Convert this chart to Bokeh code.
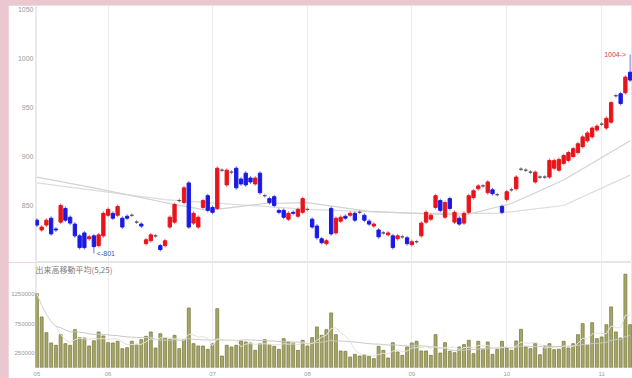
import pandas as pd
from bokeh.plotting import figure
from bokeh.layouts import column
from bokeh.models import ColumnDataSource, Range1d, FixedTicker, Label, Grid
from bokeh.embed import file_html
from bokeh.resources import INLINE

month_ticks = [0, 15, 37, 57, 79, 99, 119]
month_labels = ["05", "06", "07", "08", "09", "10", "11"]
price_ticks = [850, 900, 950, 1000, 1050]
volume_ticks = [250000, 750000, 1250000]

opens = [835, 825, 830, 837, 826, 833, 847, 838, 831, 819,
         822, 816, 819, 809, 819, 840, 842, 840, 837, 839,
         840, 833, 831, 811, 814, 819, 809, 809, 828, 833,
         855, 853, 873, 832, 828, 848, 860, 848, 847, 886,
         871, 884, 888, 877, 883, 878, 872, 883, 860, 857,
         859, 845, 845, 836, 843, 839, 843, 846, 836, 829,
         816, 811, 847, 822, 834, 839, 840, 842, 843, 840,
         834, 829, 825, 822, 820, 819, 816, 818, 817, 810,
         813, 819, 833, 836, 848, 855, 838, 857, 833, 837,
         832, 843, 858, 867, 870, 863, 866, 861, 849, 856,
         866, 867, 887, 886, 884, 874, 879, 879, 879, 888,
         886, 893, 896, 900, 904, 910, 916, 920, 927, 933,
         929, 935, 962, 964, 965, 986]
closes = [830, 828, 835, 821, 825, 850, 835, 832, 819, 807,
          807, 818, 808, 820, 842, 846, 837, 849, 828, 837,
          840, 833, 829, 815, 820, 819, 805, 814, 838, 851,
          855, 868, 828, 842, 838, 855, 845, 843, 888, 886,
          886, 884, 868, 872, 871, 874, 878, 863, 860, 853,
          850, 843, 838, 842, 842, 846, 857, 846, 828, 817,
          812, 814, 821, 837, 838, 837, 842, 835, 843, 835,
          831, 831, 818, 822, 822, 807, 819, 818, 811, 813,
          813, 832, 843, 840, 860, 845, 853, 847, 843, 831,
          842, 860, 865, 870, 870, 874, 862, 861, 843, 864,
          866, 879, 887, 886, 884, 884, 879, 879, 896, 896,
          897, 901, 904, 908, 913, 920, 924, 929, 931, 933,
          939, 955, 962, 954, 981, 978]
highs = [837, 830, 837, 839, 828, 852, 849, 840, 833, 821,
         824, 820, 821, 822, 844, 848, 844, 851, 839, 841,
         842, 835, 833, 817, 822, 821, 811, 816, 840, 853,
         857, 870, 875, 844, 840, 857, 862, 850, 890, 888,
         888, 886, 890, 879, 885, 880, 880, 885, 862, 859,
         861, 847, 847, 844, 845, 848, 859, 848, 838, 831,
         818, 816, 849, 839, 840, 841, 844, 844, 845, 842,
         836, 833, 827, 824, 824, 821, 821, 820, 819, 815,
         815, 834, 845, 842, 862, 857, 855, 859, 845, 839,
         844, 862, 867, 872, 872, 876, 868, 863, 851, 866,
         868, 881, 889, 888, 886, 886, 881, 881, 898, 898,
         899, 903, 906, 910, 915, 922, 926, 931, 933, 935,
         941, 957, 964, 966, 983, 1004]
lows = [828, 823, 828, 819, 823, 831, 833, 830, 817, 805,
        805, 814, 801, 807, 817, 838, 835, 838, 826, 835,
        838, 831, 827, 809, 812, 817, 803, 807, 826, 831,
        853, 851, 826, 830, 826, 846, 843, 841, 845, 884,
        869, 882, 866, 870, 869, 872, 870, 861, 858, 851,
        848, 841, 836, 834, 840, 837, 841, 844, 826, 815,
        810, 809, 819, 820, 832, 835, 838, 833, 841, 833,
        829, 827, 816, 820, 818, 805, 814, 816, 809, 808,
        811, 817, 831, 834, 846, 843, 836, 845, 831, 829,
        830, 841, 856, 865, 868, 861, 860, 859, 841, 854,
        864, 865, 885, 884, 882, 872, 877, 877, 877, 886,
        884, 891, 894, 898, 902, 908, 914, 918, 925, 931,
        927, 933, 960, 952, 963, 976]
volumes_k = [1259, 862, 594, 418, 379, 560, 406, 379, 645, 509,
             503, 367, 457, 606, 538, 423, 418, 447, 321, 338,
             447, 396, 475, 532, 606, 333, 577, 509, 481, 549,
             321, 481, 1015, 406, 367, 367,
             310, 406, 1003, 196, 379, 350, 379, 452, 435, 418,
             293, 406, 475, 390, 361, 310, 492, 435, 418, 293,
             464, 367, 509, 691, 549, 645, 930, 560, 282, 276,
             179, 225, 196, 218, 191, 150, 361, 293, 162, 423,
             265, 208, 350, 418, 447,
             282, 282, 208, 560, 247, 423, 276, 253, 350, 390,
             464, 236, 447, 304, 435, 225, 310, 447, 333, 293,
             452, 651, 350, 321, 406, 218, 367, 406, 304, 310,
             447, 333, 406, 560, 747, 379, 764, 492, 520, 730,
             1032, 606, 503, 1590, 730]

# moving averages of price (index, value)
ma25_idx = [0, 12, 27, 36, 48, 57, 70, 80, 90, 100, 111, 125]
ma25_val = [879, 868, 853, 845, 852, 853, 844, 842, 840, 852, 876, 916]
ma75_idx = [0, 27, 57, 80, 97, 111, 125]
ma75_val = [873, 856, 846, 842, 842, 850, 881]

UP = "#e8141c"
DOWN = "#1a1ae6"
FLAT = "#555566"

n = len(opens)
idx = list(range(n))
colors = [UP if c > o else (DOWN if c < o else FLAT) for o, c in zip(opens, closes)]
src = ColumnDataSource(dict(
    x=idx, top=[max(o, c) for o, c in zip(opens, closes)],
    bottom=[min(o, c) for o, c in zip(opens, closes)],
    high=highs, low=lows, color=colors,
    vol=[v * 1000 for v in volumes_k],
))
vs = pd.Series([v * 1000 for v in volumes_k])
vsrc = ColumnDataSource(dict(x=idx, ma5=vs.rolling(5, min_periods=1).mean(),
                             ma25=vs.rolling(25, min_periods=1).mean()))

xr = Range1d(-0.3, 125.5)

p1 = figure(width=624, height=257, x_range=xr, y_range=Range1d(791.8, 1054.1),
            output_backend="svg", toolbar_location=None, x_axis_location=None,
            min_border_left=24, min_border_right=0, min_border_top=0, min_border_bottom=0)
p1.grid.visible = False
p1.add_layout(Grid(dimension=0, ticker=FixedTicker(ticks=month_ticks), grid_line_color="#ececec"))
p1.outline_line_color = "#e6e6e6"
p1.yaxis.ticker = FixedTicker(ticks=price_ticks)
p1.yaxis.axis_line_color = None
p1.yaxis.major_tick_line_color = None
p1.yaxis.minor_tick_line_color = None
p1.yaxis.major_tick_out = 0
p1.yaxis.major_label_standoff = 2
p1.yaxis.major_label_text_font_size = "7px"
p1.yaxis.major_label_text_color = "#9a9a9a"
p1.yaxis.major_label_text_font = "Liberation Sans"

p1.line(ma75_idx, ma75_val, line_color="#dcdcdc", line_width=1.2)
p1.line(ma25_idx, ma25_val, line_color="#d2d2d2", line_width=1.2)
p1.segment(x0="x", y0="low", x1="x", y1="high", line_color="color", line_width=1,
           line_alpha=0.6, source=src)
p1.vbar(x="x", width=0.7, top="top", bottom="bottom", fill_color="color",
        line_color="color", line_width=1, source=src)

p1.add_layout(Label(x=12, y=801, text="<-801", x_offset=3, text_baseline="middle",
                    text_font_size="7px", text_color="#3a58a8", text_font="Liberation Sans"))
p1.add_layout(Label(x=125, y=1004, text="1004->", x_offset=-4, text_align="right",
                    text_baseline="middle", text_font_size="7px", text_color="#d84444",
                    text_font="Liberation Sans"))

p2 = figure(width=624, height=116, x_range=xr, y_range=Range1d(0, 1790000),
            output_backend="svg", toolbar_location=None,
            min_border_left=24, min_border_right=0, min_border_top=0, min_border_bottom=0)
p2.outline_line_color = "#e6e6e6"
p2.ygrid.visible = False
p2.xgrid.grid_line_color = "#ececec"
p2.xaxis.ticker = FixedTicker(ticks=month_ticks)
p2.xaxis.major_label_overrides = {t: l for t, l in zip(month_ticks, month_labels)}
p2.yaxis.ticker = FixedTicker(ticks=volume_ticks)
p2.yaxis.major_label_overrides = {t: str(t) for t in volume_ticks}
for ax in (p2.xaxis, p2.yaxis):
    ax.axis_line_color = None
    ax.major_tick_line_color = None
    ax.minor_tick_line_color = None
    ax.major_tick_out = 0
    ax.major_label_text_font_size = "6px"
    ax.major_label_text_color = "#9a9a9a"
    ax.major_label_text_font = "Liberation Sans"
p2.xaxis.major_label_standoff = 4
p2.yaxis.major_label_standoff = 1

p2.vbar(x="x", width=0.62, top="vol", bottom=0, fill_color="#a6a666",
        line_color="#7e7e48", line_width=0.8, source=src)
p2.line("x", "ma25", line_color="#c8c8c8", line_width=1, source=vsrc)
p2.line("x", "ma5", line_color="#e2e2d8", line_width=1, source=vsrc)
p2.add_layout(Label(x=-0.3, y=1790000, text="出来高移動平均(5,25)", y_offset=-1,
                    text_baseline="top", text_font_size="8px", text_color="#7a7a7a",
                    text_font="Noto Sans CJK JP"))

layout = column(p1, p2, spacing=0)
html = file_html(layout, INLINE)
style = ("<style>html{background:#ebc8d0 !important;} body{background:#ebc8d0 !important;"
         "padding:5px 0 0 8px !important; box-sizing:border-box !important;}</style>\n")
pos = html.rfind("<body")
if pos >= 0:
    html = html[:pos] + style + html[pos:]
open("out.html", "w").write(html)
